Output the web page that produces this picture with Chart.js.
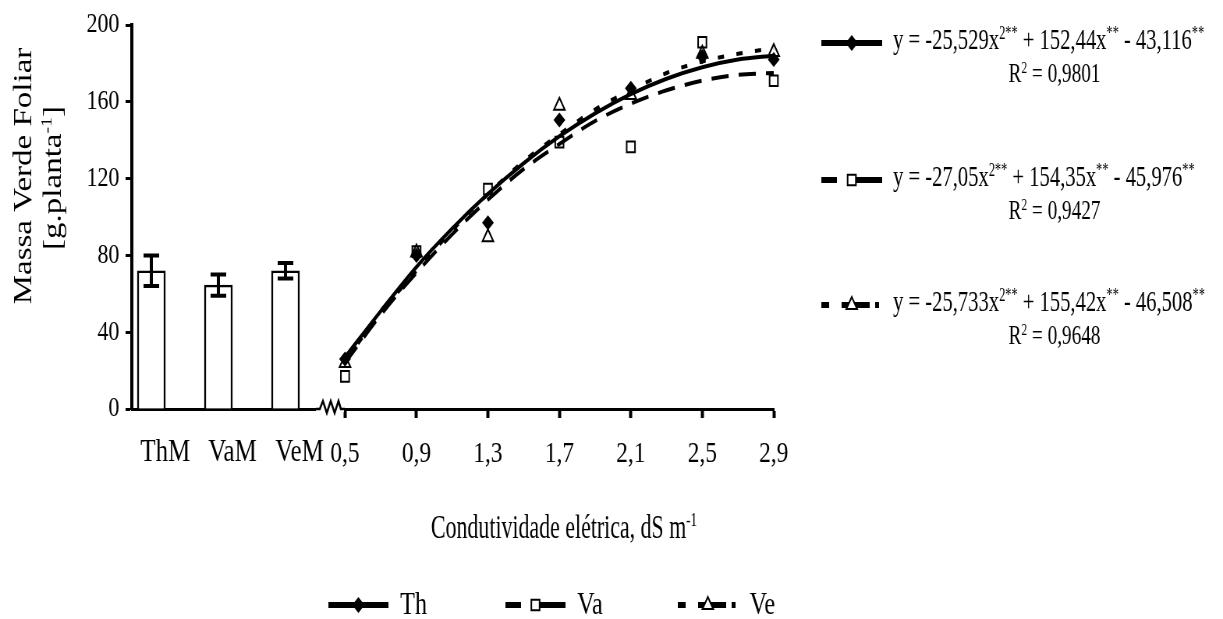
<!DOCTYPE html>
<html>
<head>
<meta charset="utf-8">
<script src="https://cdn.jsdelivr.net/npm/chart.js@4.4.1/dist/chart.umd.min.js"></script>
<style>
    html, body { margin: 0; padding: 0; background: #fff; overflow: hidden; }
</style>
</head>
<body>
<!-- the figure is drawn wide and squeezed sideways, like the condensed original -->
<canvas id="plot" width="1568" height="619" style="display:block;width:1223px;height:619px"></canvas>
<script>
// controles (barras) com erro
var barLabels = ['ThM', 'VaM', 'VeM'];
var barValues = [72, 64.5, 72];
var barErrors = [8, 5.5, 4];

// pontos observados
var pointX = [0.5, 0.9, 1.3, 1.7, 2.1, 2.5, 2.9];
var thPoints = [26, 80, 97, 150.5, 167, 183.5, 182];
var vaPoints = [17, 82, 114.5, 139, 136.5, 191, 171];
var vePoints = [24, 81.5, 89.5, 158, 163.5, 185, 186];

// curvas ajustadas
var curveX = [0.5, 0.7, 0.9, 1.1, 1.3, 1.5, 1.7, 1.9, 2.1, 2.3, 2.5, 2.7, 2.9];
var thCurve = [27, 51, 74, 94, 112, 128, 142, 154, 164, 172, 178, 182, 184];
var vaCurve = [24, 49, 71, 91, 109, 125, 138, 150, 159, 166, 171, 174, 175];
var veCurve = [25, 50, 72, 93, 112, 129, 143, 156, 166, 175, 181, 185, 188];

var xTicks = [0.5, 0.9, 1.3, 1.7, 2.1, 2.5, 2.9];
var yTicks = [0, 40, 80, 120, 160, 200];

var seriesNames = ['Th', 'Va', 'Ve'];
var equations = [
    [['y = -25,529x'], ['2**', 1], [' + 152,44x'], ['**', 1], [' - 43,116'], ['**', 1]],
    [['y = -27,05x'], ['2**', 1], [' + 154,35x'], ['**', 1], [' - 45,976'], ['**', 1]],
    [['y = -25,733x'], ['2**', 1], [' + 155,42x'], ['**', 1], [' - 46,508'], ['**', 1]]
];
var r2Values = ['0,9801', '0,9427', '0,9648'];
var yTitle = ['Massa Verde Foliar', '[g.planta', '-1', ']'];
var xTitle = [['Condutividade elétrica, dS m'], ['-1', 1]];

// estilos das séries
var styles = [
    { dash: [], legendDash: [], point: 'rectRot', radius: 6.5, fill: '#000', legendFill: '#000' },
    { dash: [22, 13], legendDash: [20, 16, 60], point: 'rect', radius: 7.5, fill: 'rgba(255,255,255,0)', legendFill: '#fff' },
    { dash: [8, 16], legendDash: [10, 16, 36, 7, 5, 40], point: 'triangle', radius: 8, fill: 'rgba(255,255,255,0)', legendFill: '#fff' }
];

var serif = '"Liberation Serif", "Times New Roman", serif';
Chart.defaults.font.family = serif;
Chart.defaults.color = '#000';

function pairs(xs, ys) {
    return xs.map(function (x, i) { return { x: x, y: ys[i] }; });
}

function fontOf(size) {
    return size + 'px ' + serif;
}

// texto com sobrescritos, comprimido na horizontal por sx
function drawRuns(ctx, runs, x, y, size, align, sx) {
    ctx.save();
    ctx.translate(x, y);
    ctx.scale(sx, 1);
    ctx.fillStyle = '#000';
    ctx.textBaseline = 'middle';
    ctx.textAlign = 'left';
    var widths = runs.map(function (r) {
        ctx.font = fontOf(r[1] ? size * 0.6 : size);
        return ctx.measureText(r[0]).width;
    });
    var total = widths.reduce(function (a, b) { return a + b; }, 0);
    var cx = align === 'center' ? -total / 2 : 0;
    runs.forEach(function (r, i) {
        ctx.font = fontOf(r[1] ? size * 0.6 : size);
        ctx.fillText(r[0], cx, r[1] ? -size * 0.24 : 0);
        cx += widths[i];
    });
    ctx.restore();
}

function drawSample(ctx, i, x0, x1, y) {
    var st = styles[i];
    ctx.save();
    ctx.strokeStyle = '#000';
    ctx.lineWidth = 6;
    ctx.setLineDash(st.legendDash);
    ctx.beginPath();
    ctx.moveTo(x0, y);
    ctx.lineTo(x1, y);
    ctx.stroke();
    ctx.setLineDash([]);
    ctx.fillStyle = st.legendFill;
    ctx.lineWidth = 2;
    Chart.helpers.drawPoint(ctx, { pointStyle: st.point, radius: st.radius, rotation: 0, borderWidth: 2 }, (x0 + x1) / 2, y);
    ctx.restore();
}

var decorPlugin = {
    id: 'decor',
    beforeDraw: function (chart) {
        var ctx = chart.ctx;
        ctx.save();
        ctx.fillStyle = '#fff';
        ctx.fillRect(0, 0, chart.width, chart.height);
        ctx.restore();
    },
    afterDraw: function (chart) {
        var ctx = chart.ctx;
        var y = chart.scales.y;
        var xLin = chart.scales.xLin;
        var bars = chart.getDatasetMeta(0).data;

        // barras de erro
        ctx.save();
        ctx.strokeStyle = '#000';
        ctx.lineWidth = 4;
        bars.forEach(function (bar, i) {
            var top = y.getPixelForValue(barValues[i] + barErrors[i]);
            var bot = y.getPixelForValue(barValues[i] - barErrors[i]);
            ctx.beginPath();
            ctx.moveTo(bar.x, top);
            ctx.lineTo(bar.x, bot);
            ctx.moveTo(bar.x - 10, top);
            ctx.lineTo(bar.x + 10, top);
            ctx.moveTo(bar.x - 10, bot);
            ctx.lineTo(bar.x + 10, bot);
            ctx.stroke();
        });
        ctx.restore();

        // quebra do eixo x
        var bx = xLin.left;
        var by = y.bottom;
        ctx.save();
        ctx.fillStyle = '#fff';
        ctx.fillRect(bx - 22, by - 3, 36, 6);
        ctx.strokeStyle = '#000';
        ctx.lineWidth = 2.5;
        ctx.beginPath();
        ctx.moveTo(bx - 22, by);
        ctx.lineTo(bx - 17, by);
        ctx.lineTo(bx - 13, by - 8);
        ctx.lineTo(bx - 8, by + 4);
        ctx.lineTo(bx - 3, by - 8);
        ctx.lineTo(bx + 2, by + 4);
        ctx.lineTo(bx + 7, by - 8);
        ctx.lineTo(bx + 10, by);
        ctx.lineTo(bx + 15, by);
        ctx.stroke();
        ctx.restore();

        // título do eixo y
        ctx.save();
        ctx.fillStyle = '#000';
        ctx.textAlign = 'center';
        ctx.textBaseline = 'middle';
        ctx.translate(31, 176);
        ctx.rotate(-Math.PI / 2);
        ctx.font = fontOf(33);
        ctx.fillText(yTitle[0], 0, 0);
        ctx.restore();
        ctx.save();
        ctx.translate(69, 178);
        ctx.rotate(-Math.PI / 2);
        drawRuns(ctx, [[yTitle[1]], [yTitle[2], 1], [yTitle[3]]], 0, 0, 33, 'center', 1);
        ctx.restore();

        // título do eixo x, centrado na parte numérica
        var xc = (xLin.getPixelForValue(xTicks[0]) + xLin.getPixelForValue(xTicks[xTicks.length - 1])) / 2;
        drawRuns(ctx, xTitle, xc + 6, 529, 33, 'center', 0.85);

        // legenda das equações
        var eqY = [43, 180, 305];
        equations.forEach(function (eq, i) {
            drawSample(ctx, i, 1053, 1131, eqY[i]);
            var tx = 1145;
            drawRuns(ctx, eq, tx, eqY[i] - 2, 30, 'left', 0.88);
            drawRuns(ctx, [['R'], ['2', 1], [' = ' + r2Values[i]]], 1352, eqY[i] + 32, 28, 'center', 0.88);
        });

        // legenda inferior
        var legX = [421, 648, 869];
        seriesNames.forEach(function (name, i) {
            drawSample(ctx, i, legX[i], legX[i] + 77, 605);
            drawRuns(ctx, [[name]], legX[i] + 92, 606, 31, 'left', 1);
        });
    }
};

var ctxPlot = document.getElementById('plot').getContext('2d');

var chart = new Chart(ctxPlot, {
    data: {
        labels: barLabels,
        datasets: [
            {
                type: 'bar', data: barValues, xAxisID: 'xBar', yAxisID: 'y', order: 3,
                backgroundColor: '#fff', borderColor: '#000', borderWidth: 2.5, barThickness: 36
            },
            {
                type: 'line', data: pairs(pointX, thPoints), xAxisID: 'xLin', yAxisID: 'y', order: 0,
                showLine: false, pointStyle: styles[0].point, pointRadius: styles[0].radius,
                pointBackgroundColor: styles[0].fill, pointBorderColor: '#000', pointBorderWidth: 1.5, clip: false
            },
            {
                type: 'line', data: pairs(pointX, vaPoints), xAxisID: 'xLin', yAxisID: 'y', order: 0,
                showLine: false, pointStyle: styles[1].point, pointRadius: styles[1].radius,
                pointBackgroundColor: styles[1].fill, pointBorderColor: '#000', pointBorderWidth: 2, clip: false
            },
            {
                type: 'line', data: pairs(pointX, vePoints), xAxisID: 'xLin', yAxisID: 'y', order: 0,
                showLine: false, pointStyle: styles[2].point, pointRadius: styles[2].radius,
                pointBackgroundColor: styles[2].fill, pointBorderColor: '#000', pointBorderWidth: 2, clip: false
            },
            {
                type: 'line', data: pairs(curveX, thCurve), xAxisID: 'xLin', yAxisID: 'y', order: 1,
                borderColor: '#000', borderWidth: 4, borderDash: styles[0].dash, pointRadius: 0,
                cubicInterpolationMode: 'monotone', clip: false
            },
            {
                type: 'line', data: pairs(curveX, vaCurve), xAxisID: 'xLin', yAxisID: 'y', order: 1,
                borderColor: '#000', borderWidth: 4, borderDash: styles[1].dash, pointRadius: 0,
                cubicInterpolationMode: 'monotone', clip: false
            },
            {
                type: 'line', data: pairs(curveX, veCurve), xAxisID: 'xLin', yAxisID: 'y', order: 1,
                borderColor: '#000', borderWidth: 4, borderDash: styles[2].dash, pointRadius: 0,
                cubicInterpolationMode: 'monotone', clip: false
            }
        ]
    },
    options: {
        responsive: false,
        animation: false,
        events: [],
        layout: { padding: { top: 25, right: 576, bottom: 0, left: 0 } },
        plugins: { legend: { display: false }, tooltip: { enabled: false } },
        scales: {
            xBar: {
                type: 'category', position: 'bottom', stack: 'x', stackWeight: 258, offset: true,
                border: { color: '#000', width: 3 },
                grid: { display: false, drawTicks: true, tickLength: 9 },
                ticks: { font: { size: 32 }, padding: 15, maxRotation: 0, autoSkip: false },
                afterFit: function (s) { s.height = 210; }
            },
            xLin: {
                type: 'linear', position: 'bottom', stack: 'x', stackWeight: 565,
                min: 0.433, max: 2.9,
                border: { color: '#000', width: 3 },
                grid: { drawOnChartArea: false, drawTicks: true, tickLength: 9, tickWidth: 4, tickColor: '#000' },
                ticks: {
                    font: { size: 30 }, padding: 18, autoSkip: false, maxRotation: 0,
                    callback: function (v) { return v.toFixed(1).replace('.', ','); }
                },
                afterBuildTicks: function (s) { s.ticks = xTicks.map(function (v) { return { value: v }; }); },
                afterFit: function (s) { s.height = 210; }
            },
            y: {
                type: 'linear', position: 'left', min: 0, max: 200,
                border: { color: '#000', width: 4 },
                grid: { drawOnChartArea: false, drawTicks: true, tickLength: 8, tickWidth: 3, tickColor: '#000' },
                ticks: { font: { size: 28 }, padding: 8 },
                afterBuildTicks: function (s) { s.ticks = yTicks.map(function (v) { return { value: v }; }); },
                afterFit: function (s) { s.width = 169; }
            }
        }
    },
    plugins: [decorPlugin]
});
</script>
</body>
</html>
